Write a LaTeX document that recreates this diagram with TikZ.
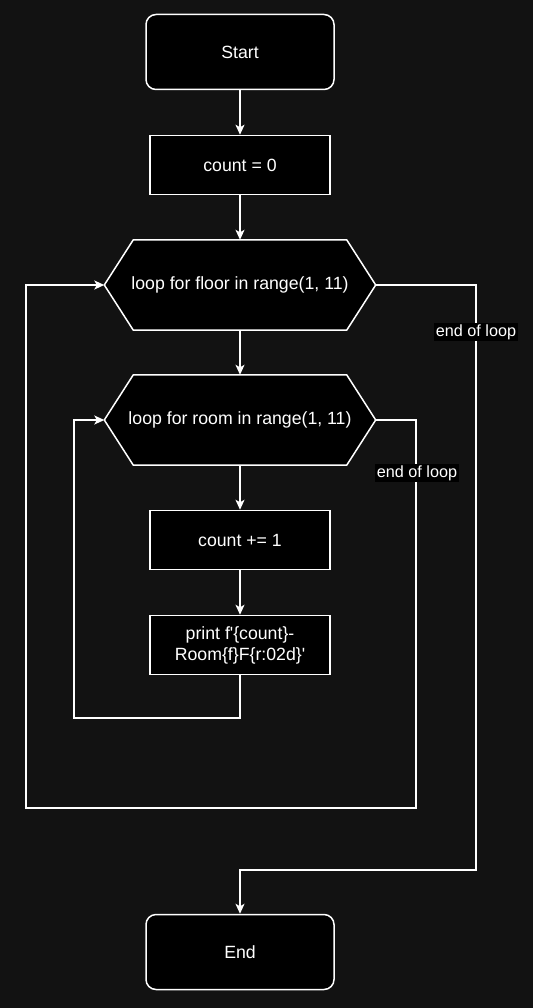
\documentclass[tikz,border=0pt]{standalone}
\usepackage{fontspec}
\newfontfamily\dfont{Liberation Sans}
\usetikzlibrary{arrows.meta}
\pgfdeclarelayer{bg}
\pgfsetlayers{bg,main}
\definecolor{bgc}{HTML}{121212}
\begin{document}
\begin{tikzpicture}[x=1pt,y=-1pt,
  box/.style={draw=white, fill=black, line width=1.5pt, minimum width=180pt, minimum height=59pt, inner sep=0pt, font=\dfont\fontsize{17.7}{21}\selectfont, text=white},
  term/.style={box, rounded corners=10pt, minimum width=188pt, minimum height=75pt},
  hexn/.style={minimum width=271pt, minimum height=90pt, inner sep=0pt, font=\dfont\fontsize{17.7}{21}\selectfont, text=white},
  hexshape/.style={draw=white, fill=black, line width=1.5pt, line join=miter},
  lbl/.style={fill=black, text=white, font=\dfont\fontsize{16.2}{19}\selectfont, inner sep=1.5pt},
  wire/.style={draw=white, line width=1.5pt},
  arr/.style={wire, -{Stealth[length=10pt,width=9pt,inset=2.5pt]}}]
\useasboundingbox (0,0) rectangle (533,1008);
\node[term] (start) at (240,52) {Start};
\node[box] (c0) at (240,165) {count = 0};
\node[hexn] (h1) at (240,285) {loop for floor in range(1, 11)};
\node[hexn] (h2) at (240,420) {loop for room in range(1, 11)};
\node[box] (inc) at (240,540) {count += 1};
\node[box, align=center] (pr) at (240,645) {print f'\{count\}-\\Room\{f\}F\{r:02d\}'};
\node[term] (end) at (240,952) {End};
\begin{pgfonlayer}{bg}
\fill[bgc] (0,0) rectangle (533,1008);
\foreach \n in {h1,h2}
  \path[hexshape] (\n.west) -- ([xshift=29pt]\n.north west) -- ([xshift=-29pt]\n.north east) -- (\n.east) -- ([xshift=-29pt]\n.south east) -- ([xshift=29pt]\n.south west) -- cycle;
\end{pgfonlayer}
\coordinate (a1) at (74,718);
\coordinate (b1) at (416,808);
\coordinate (b2) at (26,808);
\coordinate (c1) at (476,870);
\draw[arr] (start) -- (c0);
\draw[arr] (c0) -- (h1);
\draw[arr] (h1) -- (h2);
\draw[arr] (h2) -- (inc);
\draw[arr] (inc) -- (pr);
\draw[arr] (pr.south) |- (a1) |- (h2.west);
\draw[arr] (h2.east) -| (b1) -- (b2) |- (h1.west);
\draw[arr] (h1.east) -| (c1) -| (end.north);
\node[lbl] (l1) at (476,332) {end of loop};
\node[lbl] (l2) at (417,473) {end of loop};
\end{tikzpicture}
\end{document}
